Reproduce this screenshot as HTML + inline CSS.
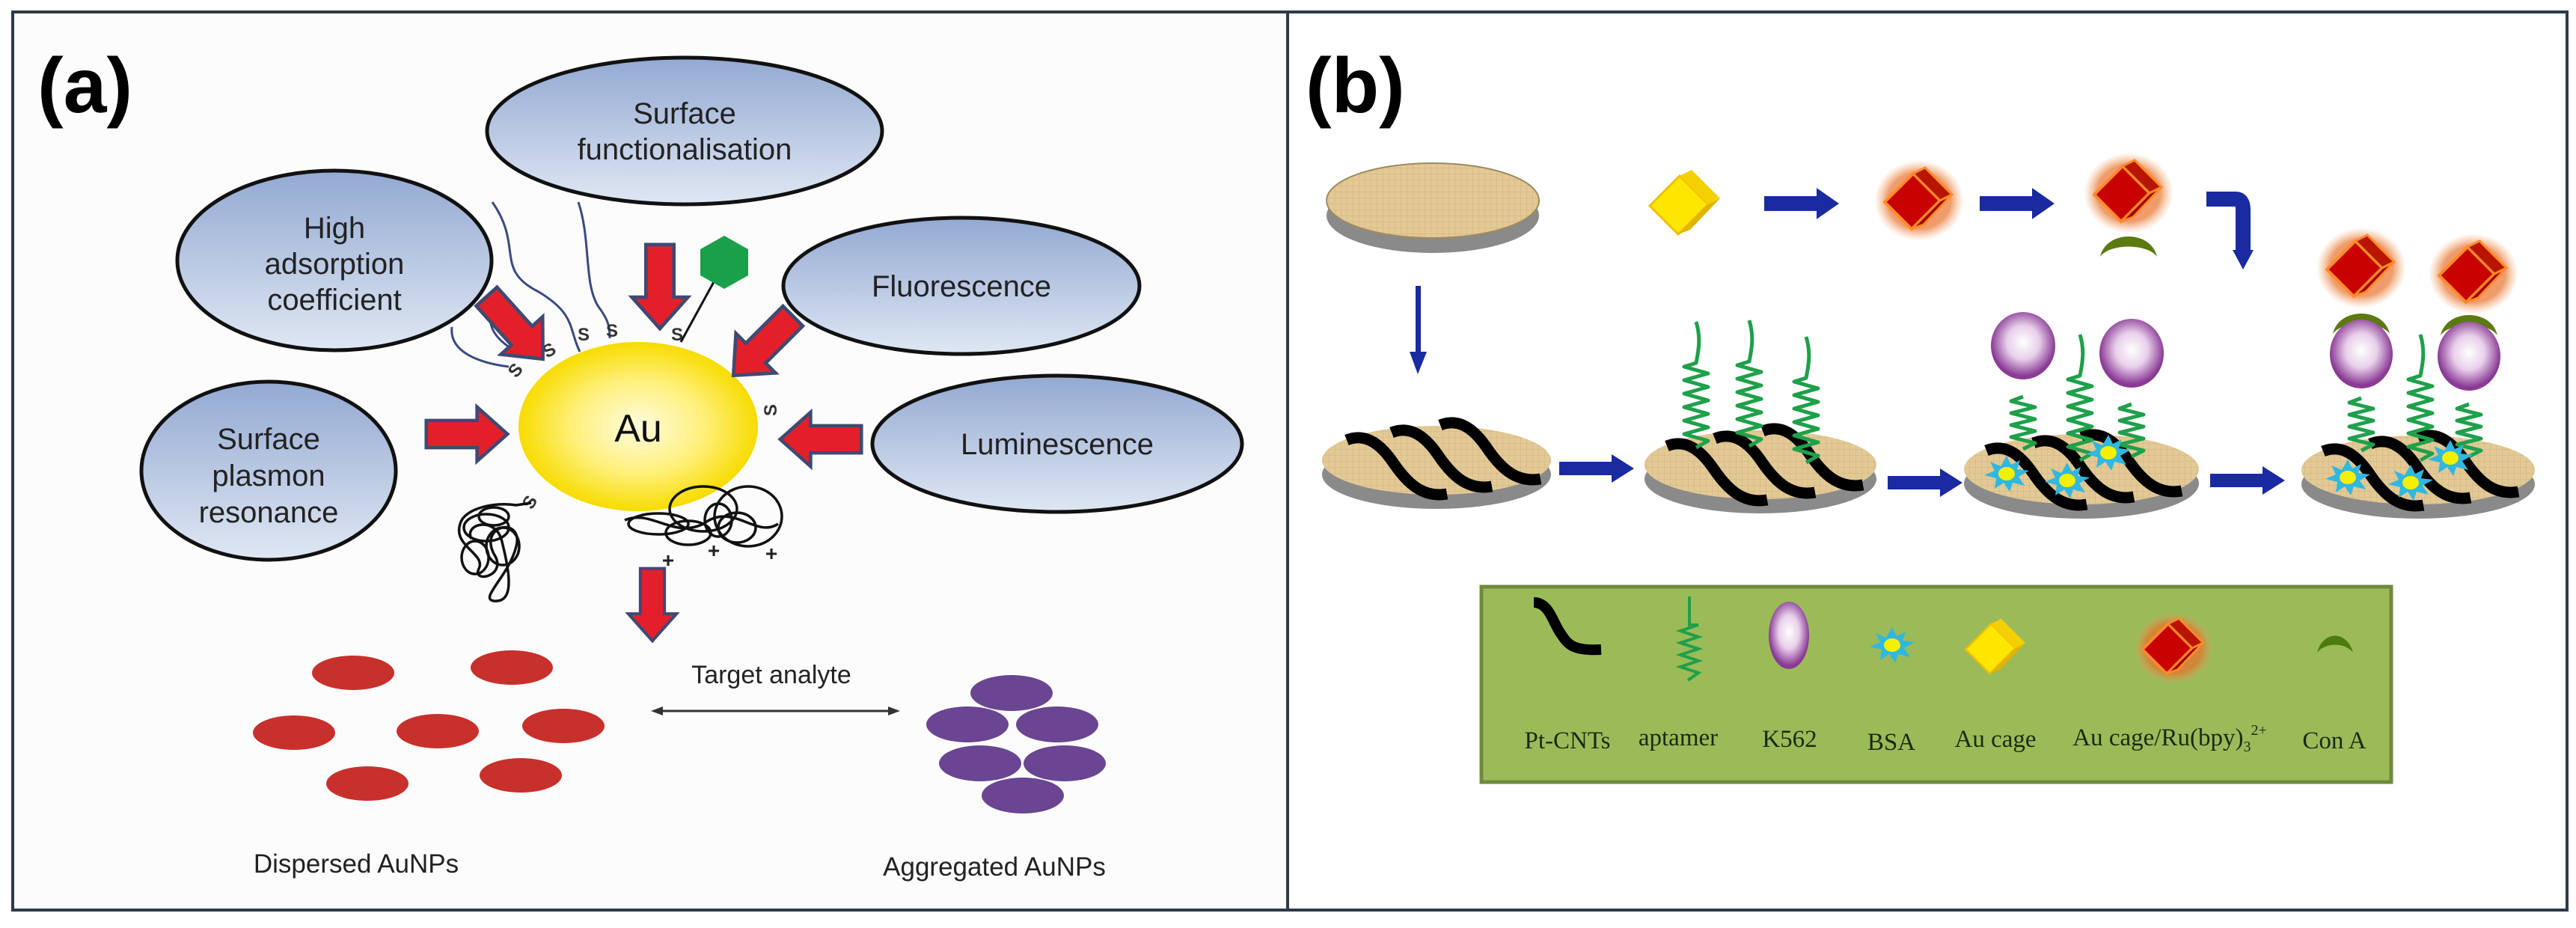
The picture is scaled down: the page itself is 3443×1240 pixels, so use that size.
<!DOCTYPE html>
<html><head><meta charset="utf-8"><style>
html,body{margin:0;padding:0;background:#fff;}
svg{display:block;}
.c{font-family:"Liberation Sans Narrow","Liberation Sans",sans-serif;fill:#222;text-anchor:middle;}
.t{font-family:"Liberation Serif",serif;fill:#1c2a10;text-anchor:middle;font-size:33px;}
</style></head><body>
<svg width="3443" height="1240" viewBox="0 0 3443 1240" xmlns="http://www.w3.org/2000/svg">
<defs>
<linearGradient id="eg" x1="0" y1="0" x2="0" y2="1"><stop offset="0" stop-color="#93a9d2"/><stop offset="1" stop-color="#dfe7f3"/></linearGradient>
<radialGradient id="au"><stop offset="0" stop-color="#fffbe0"/><stop offset="0.55" stop-color="#fff07a"/><stop offset="1" stop-color="#f7dc00"/></radialGradient>
<radialGradient id="k5" cx="0.5" cy="0.45"><stop offset="0" stop-color="#fff"/><stop offset="0.5" stop-color="#e8d0ea"/><stop offset="1" stop-color="#8a3a95"/></radialGradient>
<radialGradient id="glow"><stop offset="0.7" stop-color="#e8702a" stop-opacity="0.7"/><stop offset="1" stop-color="#f0a060" stop-opacity="0"/></radialGradient>
<pattern id="tex" width="8" height="8" patternUnits="userSpaceOnUse"><rect width="8" height="8" fill="#e3c995"/><path d="M0 0H8M0 0V8" stroke="#cdb27c" stroke-width="1"/></pattern>
<symbol id="rarr" viewBox="-62 -42 124 84" overflow="visible"><path d="M-60,-20 L15,-20 L15,-40 L60,0 L15,40 L15,20 L-60,20 Z" fill="#e3202a" stroke="#3e4a72" stroke-width="5"/></symbol>
<g id="yc"><polygon points="-48,2 -8,-38 30,0 -10,40" fill="#ffe600" stroke="#f0c000" stroke-width="3"/><polygon points="-8,-38 8,-46 46,-8 30,0" fill="#f5d000"/><polygon points="30,0 46,-8 6,34 -10,40" fill="#e0b400"/></g>
<g id="rc"><ellipse rx="60" ry="54" fill="url(#glow)"/><polygon points="-46,2 -8,-36 28,0 -10,38" fill="#c80000" stroke="#ff8a2a" stroke-width="4"/><polygon points="-8,-36 8,-44 44,-8 28,0" fill="#b81500" stroke="#ff8a2a" stroke-width="3"/><polygon points="28,0 44,-8 6,32 -10,38" fill="#a00000" stroke="#ff8a2a" stroke-width="3"/></g>
<path id="cnt" d="M0,0 C25,-10 45,5 62,30 S100,78 134,72" fill="none" stroke="#000" stroke-width="15"/>
<path id="apt" d="M0,0 l16,-9 l-32,-9 l32,-9 l-32,-9 l32,-9 l-32,-9 l32,-9 l-32,-9 l32,-9 l-32,-9 l32,-9 l-32,-9 l16,-5 c4,-20 6,-35 0,-55" fill="none" stroke="#1fa04a" stroke-width="5" stroke-linejoin="round"/>
<path id="aptS" d="M0,0 l16,-8 l-32,-8 l32,-8 l-32,-8 l32,-8 l-32,-8 l32,-8 l-32,-8 l16,-6" fill="none" stroke="#1fa04a" stroke-width="5" stroke-linejoin="round"/>
<g id="bsa"><polygon points="0,-24 6,-12 18,-18 14,-6 30,-4 16,4 24,16 8,12 4,24 -4,12 -16,20 -14,6 -30,2 -16,-4 -22,-16 -8,-10" fill="#2fb8e0"/><ellipse rx="11" ry="9" fill="#f4f000"/></g>
<path id="cona" d="M-38,18 C-30,-18 30,-18 38,18 C25,0 -25,0 -38,18 Z" fill="#5b7a10"/>
<g id="barr"><rect x="-50" y="-9" width="72" height="18" fill="#1a2aa0"/><polygon points="20,-19 50,0 20,19" fill="#1a2aa0"/></g>
</defs>

<rect x="17" y="16" width="3414" height="1200" fill="#fff" stroke="#2d3b48" stroke-width="4"/>
<rect x="19" y="18" width="1700" height="1196" fill="#fcfcfc"/>
<line x1="1721" y1="16" x2="1721" y2="1216" stroke="#2d3b48" stroke-width="4"/>

<text x="50" y="150" font-family="Liberation Sans, sans-serif" font-weight="bold" font-size="104">(a)</text>

<g fill="none" stroke="#3a4a80" stroke-width="3">
<path d="M658,270 C700,330 660,360 720,390 C770,420 760,440 775,470"/>
<path d="M773,270 C790,320 780,380 800,410 C815,430 815,440 815,452"/>
<path d="M604,437 C600,470 640,485 680,490"/>
<path d="M655,395 C660,420 640,440 690,470"/>
</g>

<g stroke="#111" stroke-width="5" fill="url(#eg)">
<ellipse cx="915" cy="175" rx="264" ry="98"/>
<ellipse cx="447" cy="348" rx="210" ry="120"/>
<ellipse cx="1285" cy="382" rx="238" ry="91"/>
<ellipse cx="359" cy="629" rx="170" ry="119"/>
<ellipse cx="1413" cy="593" rx="247" ry="91"/>
</g>
<g class="c" font-size="40">
<text x="915" y="165">Surface</text><text x="915" y="213">functionalisation</text>
<text x="447" y="318">High</text><text x="447" y="366">adsorption</text><text x="447" y="414">coefficient</text>
<text x="1285" y="396">Fluorescence</text>
<text x="359" y="600">Surface</text><text x="359" y="649">plasmon</text><text x="359" y="698">resonance</text>
<text x="1413" y="607">Luminescence</text>
</g>

<ellipse cx="853" cy="570" rx="160" ry="113" fill="url(#au)"/>
<text x="853" y="590" font-family="Liberation Sans, sans-serif" font-size="52" text-anchor="middle" fill="#111">Au</text>

<line x1="910" y1="457" x2="955" y2="375" stroke="#111" stroke-width="3"/>
<polygon points="968,315 1000,333 1000,368 968,386 936,368 936,333" fill="#1aa04a"/>

<g font-family="Liberation Sans, sans-serif" font-size="24" font-weight="bold" fill="#333" text-anchor="middle">
<text x="780" y="455">S</text><text x="818" y="450">S</text><text x="905" y="455">S</text>
<text x="738" y="475" transform="rotate(-30 738 475)">S</text>
<text x="695" y="500" transform="rotate(-50 695 500)">S</text>
<text x="1038" y="548" transform="rotate(-90 1038 548)">S</text>
<text x="715" y="675" transform="rotate(-60 715 675)">S</text>
</g>

<use href="#rarr" x="-58" y="-42" width="116" height="84" transform="translate(882,383) rotate(90)"/>
<use href="#rarr" x="-58" y="-42" width="116" height="84" transform="translate(688,438) rotate(48)"/>
<use href="#rarr" x="-58" y="-42" width="116" height="84" transform="translate(1020,462) rotate(135)"/>
<use href="#rarr" x="-65" y="-38" width="130" height="76" transform="translate(624,580)"/>
<use href="#rarr" x="-65" y="-38" width="130" height="76" transform="translate(1097,587) rotate(180)"/>
<use href="#rarr" x="-50" y="-48" width="100" height="96" transform="translate(872,808) rotate(90)"/>

<g fill="none" stroke="#111" stroke-width="3.5">
<path d="M710,672 L690,675 C660,670 620,680 615,700 C605,730 650,740 640,760 C630,780 680,770 660,740 C640,700 700,690 690,730 C680,770 640,800 660,803 C690,806 680,760 670,720 C660,690 620,700 630,720"/>
<ellipse cx="650" cy="705" rx="30" ry="18"/><ellipse cx="672" cy="730" rx="22" ry="25"/>
<ellipse cx="635" cy="745" rx="18" ry="22"/><ellipse cx="660" cy="690" rx="20" ry="12"/>
<ellipse cx="940" cy="680" rx="45" ry="30"/><ellipse cx="1000" cy="690" rx="45" ry="40"/>
<ellipse cx="880" cy="700" rx="40" ry="14"/><ellipse cx="920" cy="712" rx="30" ry="16"/>
<path d="M835,695 C870,680 900,720 940,700 C980,670 1010,720 1040,700"/>
<ellipse cx="985" cy="705" rx="25" ry="20"/><ellipse cx="960" cy="695" rx="18" ry="22"/>
</g>
<g font-family="Liberation Sans, sans-serif" font-size="28" font-weight="bold" fill="#222" text-anchor="middle">
<text x="893" y="758">+</text><text x="954" y="745">+</text><text x="1031" y="749">+</text>
</g>

<g fill="#c8302c">
<ellipse cx="472" cy="899" rx="55" ry="23"/><ellipse cx="684" cy="892" rx="55" ry="23"/>
<ellipse cx="393" cy="979" rx="55" ry="23"/><ellipse cx="585" cy="977" rx="55" ry="23"/>
<ellipse cx="753" cy="970" rx="55" ry="23"/><ellipse cx="491" cy="1047" rx="55" ry="23"/>
<ellipse cx="696" cy="1036" rx="55" ry="23"/>
</g>
<g fill="#6a4592">
<ellipse cx="1352" cy="926" rx="55" ry="24"/><ellipse cx="1293" cy="968" rx="55" ry="24"/>
<ellipse cx="1413" cy="968" rx="55" ry="24"/><ellipse cx="1310" cy="1020" rx="55" ry="24"/>
<ellipse cx="1423" cy="1020" rx="55" ry="24"/><ellipse cx="1367" cy="1063" rx="55" ry="24"/>
</g>
<text class="c" x="1031" y="913" font-size="34">Target analyte</text>
<line x1="880" y1="950" x2="1193" y2="950" stroke="#333" stroke-width="3"/>
<polygon points="870,950 886,944 886,956" fill="#333"/><polygon points="1203,950 1187,944 1187,956" fill="#333"/>
<text class="c" x="476" y="1166" font-size="35">Dispersed AuNPs</text>
<text class="c" x="1329" y="1170" font-size="35">Aggregated AuNPs</text>

<text x="1745" y="150" font-family="Liberation Sans, sans-serif" font-weight="bold" font-size="104">(b)</text>

<ellipse cx="1915" cy="288" rx="142" ry="50" fill="#8a8a8a"/>
<ellipse cx="1915" cy="268" rx="142" ry="50" fill="url(#tex)" stroke="#a08a60" stroke-width="2"/>
<rect x="1892" y="382" width="7" height="92" fill="#1a2aa0"/><polygon points="1884,470 1907,470 1895,500" fill="#1a2aa0"/>

<use href="#yc" transform="translate(2253,273)"/>
<use href="#barr" transform="translate(2408,272) scale(1.0,1.1)"/>
<use href="#rc" transform="translate(2565,268)"/>
<use href="#barr" transform="translate(2696,272) scale(1.0,1.1)"/>
<use href="#cona" transform="translate(2845,325)"/>
<use href="#rc" transform="translate(2845,258)"/>
<path d="M2949,266 L2988,266 Q2998,266 2998,280 L2998,338" fill="none" stroke="#1a2aa0" stroke-width="20"/>
<polygon points="2984,334 3012,334 2998,360" fill="#1a2aa0"/>

<g>
<ellipse cx="1920" cy="634" rx="153" ry="46" fill="#8a8a8a"/>
<ellipse cx="1920" cy="615" rx="153" ry="46" fill="url(#tex)"/>
<use href="#cnt" x="1800" y="588"/><use href="#cnt" x="1860" y="578"/><use href="#cnt" x="1925" y="568"/>
</g>
<use href="#barr" transform="translate(2134,626)"/>
<g>
<ellipse cx="2353" cy="640" rx="155" ry="46" fill="#8a8a8a"/>
<ellipse cx="2353" cy="621" rx="155" ry="46" fill="url(#tex)"/>
<use href="#cnt" x="2228" y="596"/><use href="#cnt" x="2292" y="586"/><use href="#cnt" x="2356" y="576"/>
<use href="#apt" x="2267" y="598"/><use href="#apt" x="2338" y="596"/><use href="#apt" x="2414" y="618"/>
</g>
<use href="#barr" transform="translate(2573,645)"/>
<g>
<ellipse cx="2782" cy="646" rx="157" ry="47" fill="#8a8a8a"/>
<ellipse cx="2782" cy="627" rx="157" ry="47" fill="url(#tex)"/>
<use href="#cnt" x="2655" y="602"/><use href="#cnt" x="2718" y="592"/><use href="#cnt" x="2782" y="584"/>
<use href="#aptS" x="2704" y="600"/><use href="#apt" x="2780" y="615"/><use href="#aptS" x="2849" y="610"/>
<ellipse cx="2704" cy="462" rx="43" ry="45" fill="url(#k5)"/><ellipse cx="2849" cy="472" rx="43" ry="46" fill="url(#k5)"/>
<use href="#bsa" transform="translate(2682,633)"/><use href="#bsa" transform="translate(2763,642)"/><use href="#bsa" transform="translate(2818,605)"/>
</g>
<use href="#barr" transform="translate(3004,642)"/>
<g>
<ellipse cx="3232" cy="647" rx="156" ry="46" fill="#8a8a8a"/>
<ellipse cx="3232" cy="628" rx="156" ry="46" fill="url(#tex)"/>
<use href="#cnt" x="3105" y="603"/><use href="#cnt" x="3168" y="593"/><use href="#cnt" x="3232" y="585"/>
<use href="#aptS" x="3156" y="602"/><use href="#apt" x="3235" y="615"/><use href="#aptS" x="3300" y="610"/>
<use href="#cona" transform="translate(3156,428)"/><use href="#cona" transform="translate(3300,430)"/>
<ellipse cx="3156" cy="473" rx="42" ry="46" fill="url(#k5)"/><ellipse cx="3300" cy="476" rx="42" ry="46" fill="url(#k5)"/>
<use href="#rc" transform="translate(3156,358)"/><use href="#rc" transform="translate(3306,366)"/>
<use href="#bsa" transform="translate(3138,638)"/><use href="#bsa" transform="translate(3222,645)"/><use href="#bsa" transform="translate(3275,612)"/>
</g>

<rect x="1980" y="784" width="1216" height="261" fill="#9bbb59" stroke="#6f8a3c" stroke-width="5"/>
<path d="M2050,805 C2070,805 2075,830 2085,845 S2100,870 2140,868" fill="none" stroke="#000" stroke-width="14"/>
<path d="M2258,797 L2258,835 l12,0 l-24,8 l24,8 l-24,8 l24,8 l-24,8 l24,8 l-24,8 l24,8 l-14,10" fill="none" stroke="#1fa04a" stroke-width="4"/>
<ellipse cx="2391" cy="849" rx="27" ry="45" fill="url(#k5)"/>
<use href="#bsa" transform="translate(2529,862)"/>
<use href="#yc" transform="translate(2668,866) scale(0.85)"/>
<use href="#rc" transform="translate(2905,866) scale(0.9)"/>
<path d="M3097,872 C3105,842 3137,842 3145,872 C3134,858 3108,858 3097,872 Z" fill="#4f7a10"/>
<text class="t" x="2095" y="1000">Pt-CNTs</text>
<text class="t" x="2243" y="996">aptamer</text>
<text class="t" x="2392" y="998">K562</text>
<text class="t" x="2528" y="1002">BSA</text>
<text class="t" x="2667" y="998">Au cage</text>
<text class="t" x="2900" y="996">Au cage/Ru(bpy)<tspan font-size="20" dy="8">3</tspan><tspan font-size="20" dy="-22">2+</tspan></text>
<text class="t" x="3120" y="1000">Con A</text>
</svg>
</body></html>
